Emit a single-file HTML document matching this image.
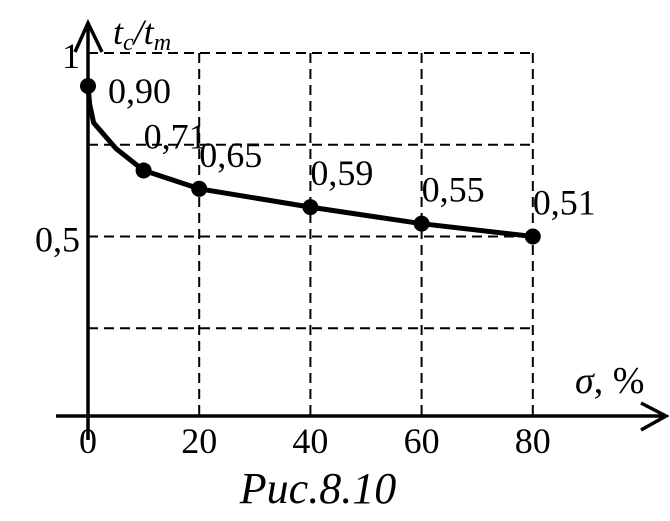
<!DOCTYPE html>
<html><head><meta charset="utf-8"><style>
html,body{margin:0;padding:0;background:#fff;}
svg{display:block;}
text{font-family:"Liberation Serif",serif;fill:#000;}
</style></head><body>
<svg id="chart" width="670" height="521" viewBox="0 0 670 521"></svg>
<script>
const xTicks = [0, 20, 40, 60, 80];
const xTickLabels = ["0", "20", "40", "60", "80"];
const yGrid = [0.25, 0.5, 0.75, 1];
const yTickValues = [1, 0.5];
const yTickLabels = ["1", "0,5"];
const pointX = [0, 10, 20, 40, 60, 80];
const pointY = [0.91, 0.68, 0.63, 0.58, 0.535, 0.50];
const pointLabels = ["0,90", "0,71", "0,65", "0,59", "0,55", "0,51"];
const curveX = [0, 0.3, 1, 5, 10, 20, 40, 60, 80];
const curveY = [0.91, 0.86, 0.81, 0.74, 0.68, 0.63, 0.58, 0.535, 0.50];

const NS = "http://www.w3.org/2000/svg";
const svg = document.getElementById("chart");
const x = v => 88 + v * 5.56;
const y = v => 420 - v * 367;
function mk(tag, attrs, parent) {
  const e = document.createElementNS(NS, tag);
  for (const k in attrs) e.setAttribute(k, attrs[k]);
  (parent || svg).appendChild(e);
  return e;
}
// grid
xTicks.slice(1).forEach(v => {
  const l = mk("line", {x1: x(v), x2: x(v), y1: y(1), y2: 416, stroke: "#000", "stroke-width": 2, "stroke-dasharray": "10,6"});
  
  
});
yGrid.forEach(v => {
  const l = mk("line", {x1: 88, x2: x(80), y1: y(v), y2: y(v), stroke: "#000", "stroke-width": 2, "stroke-dasharray": "10,6"});
  
  
});
// axes
const xa = mk("path", {d: "M56 416 L666 416 M641 403 L666 416 L641 430", stroke: "#000", "stroke-width": 3.5, fill: "none"});


const ya = mk("path", {d: "M88 440 L88 23 M75 52 L88 23 L102 52", stroke: "#000", "stroke-width": 3.5, fill: "none"});


// curve
const d = curveX.map((v, i) => (i ? "L" : "M") + x(v).toFixed(1) + " " + y(curveY[i]).toFixed(1)).join(" ");
const c = mk("path", {d: d, stroke: "#000", "stroke-width": 5, fill: "none", "stroke-linejoin": "round", "stroke-linecap": "round"});


pointX.forEach((v, i) => {
  const p = mk("circle", {cx: x(v), cy: y(pointY[i]), r: 8, fill: "#000"});
  
  
  const t = mk("text", {x: x(v) + (i === 0 ? 20 : 0), y: y(pointY[i]) - (i === 0 ? -17 : 22), "font-size": 36});
  t.textContent = pointLabels[i];
  
  
});
xTicks.forEach((v, i) => {
  const t = mk("text", {x: x(v), y: 453, "font-size": 36, "text-anchor": "middle"});
  t.textContent = xTickLabels[i];
  
  
});
yTickValues.forEach((v, i) => {
  const t = mk("text", {x: 80, y: y(v) + 15, "font-size": 36, "text-anchor": "end"});
  t.textContent = yTickLabels[i];
  
  
});
</script>
<svg width="670" height="521" style="position:absolute;left:0;top:0">
<text x="113" y="44" font-size="36" font-style="italic">t<tspan font-size="24" dy="6">c</tspan><tspan dy="-6">/t</tspan><tspan font-size="24" dy="6">m</tspan></text>
<text x="575" y="393" font-size="38" font-style="italic">σ<tspan font-style="normal">, %</tspan></text>
<text x="318" y="503" font-size="44" font-style="italic" text-anchor="middle">Рис.8.10</text>
</svg>
</body></html>
